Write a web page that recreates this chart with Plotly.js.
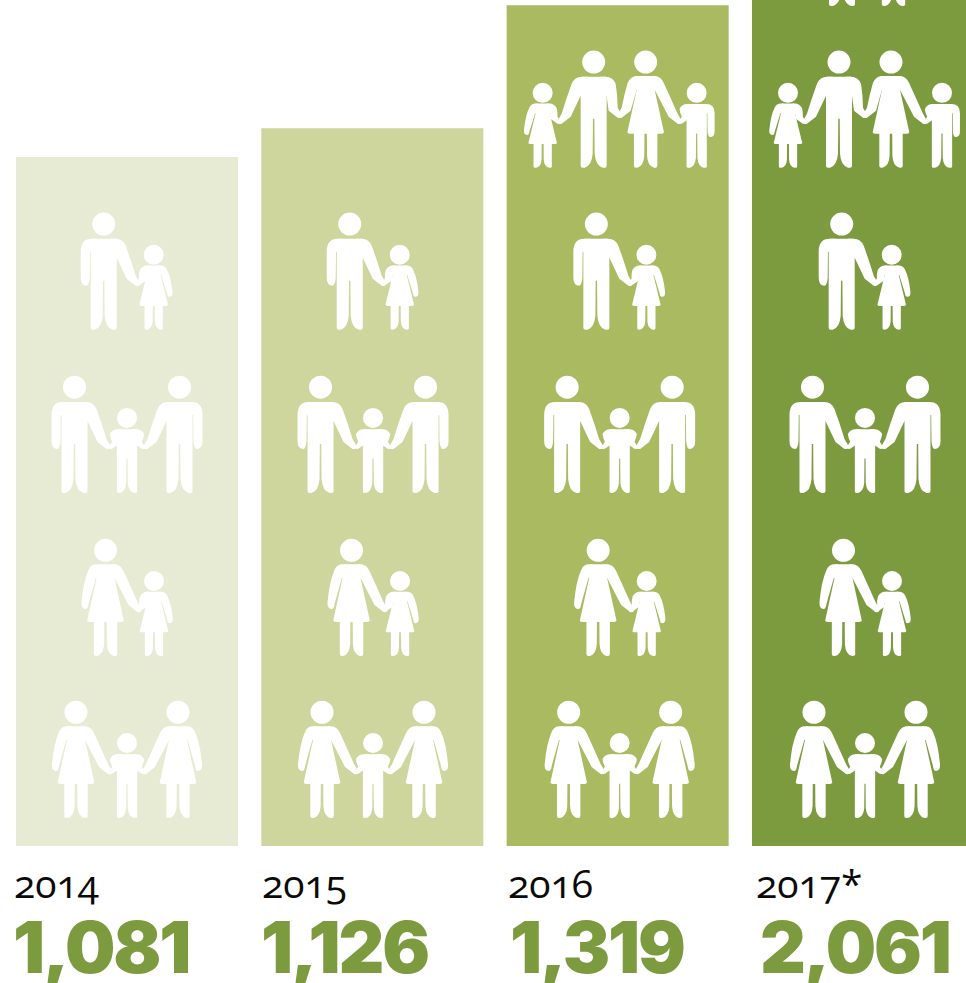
<!DOCTYPE html>
<html><head><meta charset="utf-8">
<script src="https://cdn.plot.ly/plotly-3.0.1.min.js"></script>
<style>html,body{margin:0;padding:0;background:#fff;overflow:hidden}#c{width:966px;height:983px}
text.annotation-text[style*="Inter"]{letter-spacing:-2.2px}
text.annotation-text[style*="Open Sans"]{font-variant-numeric:oldstyle-nums;font-feature-settings:"onum" 1}
</style>
</head><body><div id="c"></div><script>
const years = ['2014','2015','2016','2017*'];
const cases = [1081,1126,1319,2061];
const caseLabels = ['1,081','1,126','1,319','2,061'];
const barColors = ['#e7ebd3','#ced69e','#a9ba60','#7c9b3f'];
const rowsPerBar = [4,4,5,6];

// pictogram rows: [figure, offset, left arm, right arm]
const iconRows = [
  [['W',-51,'F','C'],['B',0,'C','C'],['W',51,'C','F']],
  [['W',-21.5,'F','C'],['G',27,'C','F']],
  [['M',-52.5,'F','C'],['B',0,'C','C'],['M',52.5,'C','F']],
  [['M',-23.3,'F','C'],['G',26.7,'C','F']],
  [['G',-77,'F','C'],['M',-26,'C','A'],['W',26,'A','C'],['B',77,'C','F']],
  [['M',-23,'F','A'],['W',28.5,'A','F']]
];
const rowAnchors = [44,298,554,810,1064,1318];
const iconNudge = [0,0.7,2,2];

const W=966,H=983,pitch=245.33,c0=127,pxPerCase=0.6374,base=846;
const shapes=[];
function pathOf(cmds,sx,sy,sign,dx){
  return cmds.map(c=>{
    let out=c[0];
    for(let i=1;i<c.length;i+=2){out+=' '+(dx+sign*sx*c[i]).toFixed(2)+','+(-sy*c[i+1]).toFixed(2);}
    return out;
  }).join(' ')+' Z';
}
function add(cmds,xa,ya,sx,sy,sign,dx){
  shapes.push({type:'path',xref:'x',yref:'y',xsizemode:'pixel',ysizemode:'pixel',xanchor:xa,yanchor:ya,
    path:pathOf(cmds,sx,sy,sign,dx),fillcolor:'#fff',line:{width:0},layer:'above'});
}
function head(xa,ya,dx,hy,r){
  shapes.push({type:'circle',xref:'x',yref:'y',xsizemode:'pixel',ysizemode:'pixel',xanchor:xa,yanchor:ya,
    x0:dx-r,x1:dx+r,y0:hy-r,y1:hy+r,fillcolor:'#fff',line:{width:0},layer:'above'});
}
const manBody=[['M',-12,-91],['L',12,-91],['Q',13,-91,13,-80],['L',13,-2],['Q',13,0,11,0],['L',9,0],['Q',2,-2,1,-14],['L',0.7,-49],['L',-0.7,-49],['L',-1,-14],['Q',-2,-2,-9,0],['L',-11,0],['Q',-13,0,-13,-2],['L',-13,-80],['Q',-13,-91,-12,-91]];
const dress=[['M',-8,-91.7],['L',8,-91.7],['L',9,-78],['L',18.3,-35.5],['Q',18,-34.2,16,-34],['L',-16,-34],['Q',-18,-34.2,-18.3,-35.5],['L',-9,-78]];
const wLeg=[['M',1.2,-35],['L',11.7,-35],['L',11.7,-2],['Q',11.7,0,9.7,0],['L',8.5,0],['Q',2,-1.5,1.4,-12]];
const manFree=[['M',6,-91],['L',12,-91],['Q',23,-91,23,-78],['L',23,-52],['Q',23,-44,17,-44],['Q',14.5,-45,14,-52],['L',13.7,-78],['L',6,-78]];
const womanFree=[['M',6,-91.7],['L',10,-91.7],['Q',15,-91,17,-86],['Q',22,-75,24,-54],['Q',24.5,-47,20,-47],['Q',17.5,-47,17,-52],['L',9.7,-78],['L',6,-78]];
function linkArm(isMan,hx,hy){
  const top=isMan?-91:-91.7;
  const start=isMan?[['M',6,top],['L',12,top],['Q',19,top,22,-84]]:[['M',6,top],['L',10,top],['Q',15,-91,18,-85]];
  return start.concat([['Q',(isMan?22:18)+(hx-3-(isMan?22:18))*0.45+1,hy-10-(hy-10+85)*0.45-1,hx-3,hy-10],['L',hx+1,hy-3],['Q',hx+1,hy+1,hx-3,hy],['L',hx-12,hy-7],['L',isMan?13:9,isMan?-72:-78],['L',6,-78]]);
}
function arm(kind,mode,child){
  const isMan=(kind==='M'||kind==='B');
  if(mode==='F') return isMan?manFree:womanFree;
  if(child) return linkArm(isMan,22,-63);
  return mode==='A'?linkArm(isMan,27,-50):linkArm(isMan,35,-44);
}
function figure(f,xa,ya,nudge){
  const kind=f[0],dx=f[1]+nudge,child=(kind==='B'||kind==='G'),sx=child?0.78:1,sy=child?0.7:1;
  head(xa,ya,dx,child?75:105.7,child?10:11.5);
  if(kind==='M'||kind==='B'){add(manBody,xa,ya,sx,sy,1,dx);}
  else{add(dress,xa,ya,sx,sy,1,dx);add(wLeg,xa,ya,sx,sy,1,dx);add(wLeg,xa,ya,sx,sy,-1,dx);}
  add(arm(kind,f[2],child),xa,ya,sx,sy,-1,dx);
  add(arm(kind,f[3],child),xa,ya,sx,sy,1,dx);
}
const xi=years.map((_,i)=>i);
xi.forEach(i=>{
  for(let r=0;r<rowsPerBar[i];r++){iconRows[r].forEach(f=>figure(f,i,rowAnchors[r],iconNudge[i]));}
});

const yearX=[14,262,508,756],numX=[13,261,510,760];
const annotations=[];
xi.forEach(i=>{
  annotations.push({xref:'paper',yref:'paper',x:yearX[i]/W,y:1-909/H,xanchor:'left',yanchor:'bottom',showarrow:false,
    text:years[i],borderpad:0,borderwidth:0,
    font:{family:'"Open Sans",sans-serif',size:39,weight:500,color:'#0a0a0a'}});
  annotations.push({xref:'paper',yref:'paper',x:numX[i]/W,y:1-990/H,xanchor:'left',yanchor:'bottom',showarrow:false,
    text:caseLabels[i],borderpad:0,borderwidth:0,
    font:{family:'Inter,Lato,sans-serif',size:71,weight:900,color:'#7c9b3f'}});
});

Plotly.newPlot('c',[{type:'bar',x:xi,y:cases,width:222/pitch,marker:{color:barColors,line:{width:0}},hoverinfo:'skip'}],{
  width:W,height:H,margin:{l:0,r:0,t:0,b:0},paper_bgcolor:'#fff',plot_bgcolor:'#fff',showlegend:false,
  xaxis:{visible:false,range:[-c0/pitch,(W-c0)/pitch],fixedrange:true},
  yaxis:{visible:false,range:[-(H-base)/pxPerCase,base/pxPerCase],fixedrange:true},
  shapes,annotations
},{displayModeBar:false,staticPlot:true});
</script></body></html>
